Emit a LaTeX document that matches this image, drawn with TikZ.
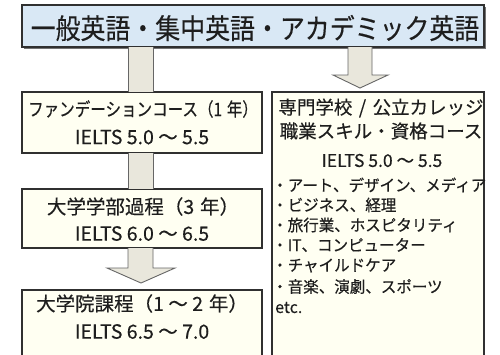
\documentclass[tikz,border=0pt]{standalone}
\usepackage{fontspec}
\usepackage{graphicx}
\setmainfont{Noto Sans CJK JP}[FakeBold=0.35]
\usetikzlibrary{calc}
\definecolor{topfill}{HTML}{D9E8F5}
\definecolor{boxfill}{HTML}{FFFFF2}
\definecolor{arrfill}{HTML}{E9E7DC}
\definecolor{edge}{HTML}{303030}
\definecolor{ink}{HTML}{1E1E1E}
\begin{document}
\begin{tikzpicture}[x=1pt,y=-1pt,
  panel/.style={draw=edge, line width=1.6pt, anchor=north west, inner sep=0pt, outer sep=0pt},
  shade/.style={fill=black!55},
  txt/.style={inner sep=0pt, text=ink},
  flowfill/.style={fill=arrfill},
  flowline/.style={draw=black!60, line width=0.9pt, line join=miter},
  mid/.style={font=\fontsize{19.5}{19.5}\selectfont},
  sml/.style={font=\fontsize{16}{16}\selectfont}
]
\useasboundingbox (0,0) rectangle (500,354);
\clip (0,0) rectangle (500,354);
\fill[white] (0,0) rectangle (500,354);

% shadows
\fill[shade] (23.5,6.5) rectangle (485.5,48.5);
\fill[shade] (23.2,93.2) rectangle (263.2,154.2);
\fill[shade] (23.2,190.2) rectangle (263.2,249.2);
\fill[shade] (23.2,291.2) rectangle (263.2,371);
\fill[shade] (273.2,93.2) rectangle (485.2,373);

% boxes
\node[panel, fill=topfill, minimum width=462pt, minimum height=42pt] (top) at (22,5) {};
\node[panel, fill=boxfill, minimum width=240pt, minimum height=61pt] (b1) at (22,92) {};
\node[panel, fill=boxfill, minimum width=240pt, minimum height=59pt] (b2) at (22,189) {};
\node[panel, fill=boxfill, minimum width=240pt, minimum height=80pt] (b3) at (22,290) {};
\node[panel, fill=boxfill, minimum width=212pt, minimum height=280pt] (rb) at (272,92) {};

% arrow A: top -> b1 (shaft only)
\fill[flowfill] (128,0 |- top.south) rectangle (153,0 |- b1.north);
\draw[flowline] (128,0 |- top.south) -- (128,0 |- b1.north)
                (153,0 |- top.south) -- (153,0 |- b1.north);
% arrow B: b1 -> b2 (shaft only)
\fill[flowfill] (128,0 |- b1.south) rectangle (153,0 |- b2.north);
\draw[flowline] (128,0 |- b1.south) -- (128,0 |- b2.north)
                (153,0 |- b1.south) -- (153,0 |- b2.north);
% arrow C: b2 -> b3
\coordinate (tipC) at (141,283);
\fill[flowfill] (128,0 |- b2.south) -- (128,268) -- (107,268) -- (tipC) -- (175,268) -- (153,268) -- (153,0 |- b2.south) -- cycle;
\draw[flowline] (128,0 |- b2.south) -- (128,268) -- (107,268) -- (tipC) -- (175,268) -- (153,268) -- (153,0 |- b2.south);
% arrow D: top -> right box
\coordinate (tipD) at (360,88);
\fill[flowfill] (348,0 |- top.south) -- (348,75) -- (333,75) -- (tipD) -- (388,75) -- (372,75) -- (372,0 |- top.south) -- cycle;
\draw[flowline] (348,0 |- top.south) -- (348,75) -- (333,75) -- (tipD) -- (388,75) -- (372,75) -- (372,0 |- top.south);

% texts
\node[txt] (ttop) at (255,28) {\scalebox{0.89}[1]{\fontsize{28}{28}\selectfont 一般英語・集中英語・アカデミック英語}};

\node[txt] (t11) at (143,109) {\scalebox{0.84}[1]{\fontsize{18.5}{18.5}\selectfont ファンデーションコース（1\hspace{0.3em}年）}};
\node[txt, mid] (t12) at (142,137) {IELTS 5.0 ～ 5.5};

\node[txt, mid] (t21) at (143,206.5) {大学学部過程（3\hspace{0.3em}年）};
\node[txt, mid] (t22) at (142,233.5) {IELTS 6.0 ～ 6.5};

\node[txt, mid] (t31) at (142,303.5) {大学院課程（1 ～ 2\hspace{0.3em}年）};
\node[txt, mid] (t32) at (142,331.5) {IELTS 6.5 ～ 7.0};

\node[txt, font=\fontsize{18.5}{18.5}\selectfont] (r1) at (381,108) {専門学校\hspace{0.35em}/\hspace{0.35em}公立カレッジ};
\node[txt, font=\fontsize{18.5}{18.5}\selectfont] (r2) at (381,131) {職業スキル・資格コース};
\node[txt, font=\fontsize{17.5}{17.5}\selectfont] (r3) at (382,160.5) {IELTS 5.0 ～ 5.5};

\node[txt, sml, anchor=west] (r4) at (272,185) {\scalebox{0.97}[1]{・アート、デザイン、メディア}};
\node[txt, sml, anchor=west] (r5) at (272,205) {\scalebox{0.97}[1]{・ビジネス、経理}};
\node[txt, sml, anchor=west] (r6) at (272,225) {\scalebox{0.97}[1]{・旅行業、ホスピタリティ}};
\node[txt, sml, anchor=west] (r7) at (272,245) {\scalebox{0.97}[1]{・IT、コンピューター}};
\node[txt, sml, anchor=west] (r8) at (272,265.5) {\scalebox{0.97}[1]{・チャイルドケア}};
\node[txt, sml, anchor=west] (r9) at (272,286.5) {\scalebox{0.97}[1]{・音楽、演劇、スポーツ}};
\node[txt, sml, anchor=base west] (r10) at (275,313) {etc.};
\end{tikzpicture}
\end{document}
